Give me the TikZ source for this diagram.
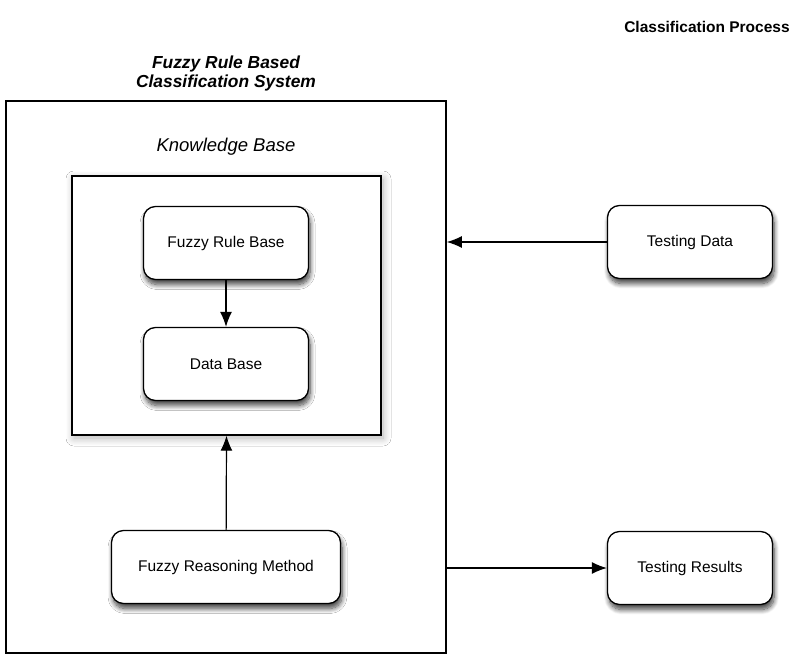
\documentclass[tikz,border=0pt]{standalone}
\usepackage{fontspec}
\setmainfont{Liberation Sans}
\usetikzlibrary{arrows.meta,shadows.blur,positioning}
\begin{document}
\begin{tikzpicture}[x=1pt,y=-1pt,
  box/.style={draw=black,line width=1.3pt,rounded corners=12pt,fill=white,
    minimum width=165pt,minimum height=73pt,font=\fontsize{15.5}{18}\selectfont,
    blur shadow={shadow xshift=1.5pt,shadow yshift=-5pt,shadow blur steps=10,shadow opacity=75,shadow blur radius=5pt}},
  frame/.style={draw=black,line width=1.6pt,fill=white},
  arr/.style={-{Latex[length=15pt,width=12pt]},line width=1.2pt},
  lbl/.style={font=\fontsize{15.5}{19.5}\selectfont\bfseries,align=center}]
\useasboundingbox (0,0) rectangle (793,656);
\node[lbl] (proc) at (707,27) {Classification Process};
\node[lbl,font=\fontsize{17.4}{19.5}\selectfont\bfseries\itshape] (title) at (226,73.5) {Fuzzy Rule Based\\Classification System};
\node[frame,minimum width=440pt,minimum height=552pt,inner sep=0pt] (sys) at (226,377) {};
\node[font=\fontsize{18.5}{20}\selectfont\itshape] (kblbl) at (226,147) {Knowledge Base};
\node[frame,line width=1.4pt,minimum width=309pt,minimum height=259pt,inner sep=0pt,
  blur shadow={shadow xshift=2pt,shadow yshift=-3pt,shadow blur steps=10,shadow opacity=30,shadow blur radius=8pt}] (kb) at (226.5,305.5) {};
\node[box] (frb) at (226,243) {Fuzzy Rule Base};
\node[box] (db) at (226,364) {Data Base};
\node[box,minimum width=229pt] (frm) at (226,567) {Fuzzy Reasoning Method};
\node[box] (td) at (690,242) {Testing Data};
\node[box] (tr) at (690,568) {Testing Results};
\draw[arr] (frb) -- (db);
\draw[arr] (frm) -- (kb.south);
\draw[arr] (td.west) -- (sys.east |- td.west);
\draw[arr] (sys.east |- tr.west) -- (tr.west);
\end{tikzpicture}
\end{document}
